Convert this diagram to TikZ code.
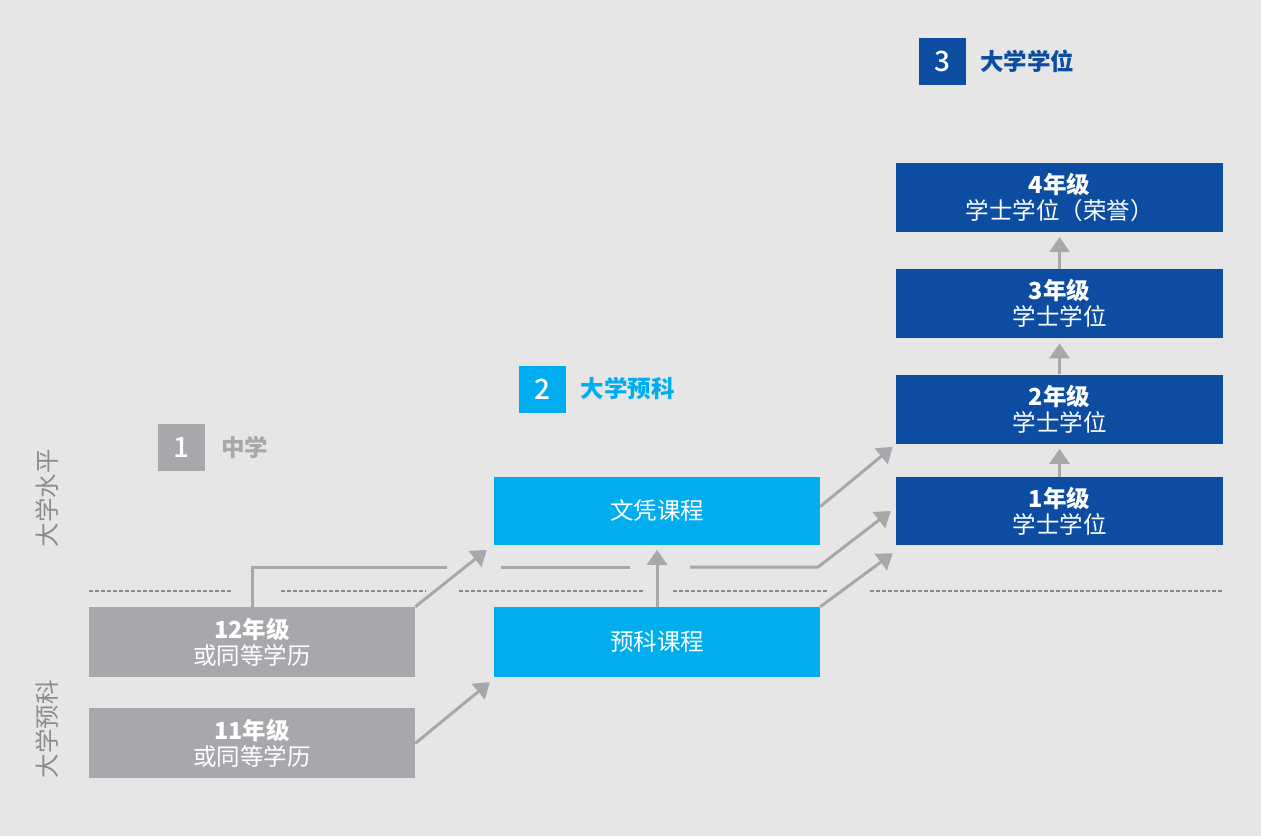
\documentclass[tikz,border=0pt]{standalone}
\usepackage{fontspec}
\setmainfont{Noto Sans CJK SC}
\newfontfamily\numfont{Noto Sans CJK SC Medium}
\usetikzlibrary{positioning, arrows.meta}
\definecolor{bggray}{HTML}{E6E6E6}
\definecolor{boxgray}{HTML}{A7A8AB}
\definecolor{boxcyan}{HTML}{00AEEF}
\definecolor{boxblue}{HTML}{0C4DA2}
\definecolor{dashgray}{HTML}{8A8A8A}
\definecolor{levelgray}{HTML}{8C8C8C}

\begin{document}
\begin{tikzpicture}[x=1pt, y=-1pt,
boxnode/.style={rectangle,
  minimum width=326pt,
  minimum height=69pt,
  inner sep=0pt,
  align=center,
  text=white,
  font=\fontsize{23.5}{26}\selectfont
},
graybox/.style={boxnode, fill=boxgray, minimum height=70pt},
cyanbox/.style={boxnode, fill=boxcyan},
bluebox/.style={boxnode, fill=boxblue, minimum width=327pt},
numbox/.style={rectangle,
  minimum width=47pt,
  minimum height=47pt,
  inner sep=0pt,
  text=white,
  font=\numfont\fontsize{28}{28}\selectfont
},
steplabel/.style={inner sep=0pt, font=\fontsize{23.5}{26}\selectfont\bfseries},
levellabel/.style={rotate=90, text=levelgray, font=\fontsize{24.5}{26}\selectfont},
arrowline/.style={->, line width=3pt, draw=boxgray},
plainline/.style={line width=3pt, draw=boxgray},
divider/.style={draw=dashgray, line width=1.5pt, dash pattern=on 4pt off 2pt},
>={Triangle[length=15pt,width=20pt]}
]

\fill[bggray] (0,0) rectangle (1261,836);

\node[levellabel] (upper) at (47,498)
    {大学水平};
\node[levellabel] (lower) at (47,729)
    {大学预科};

\node[numbox, fill=boxgray] (n1) at (181.5,447.5)
    {1};
\node[steplabel, text=boxgray, right=16pt of n1] (l1)
    {中学};
\node[numbox, fill=boxcyan] (n2) at (542,389)
    {2};
\node[steplabel, text=boxcyan, right=15pt of n2] (l2)
    {大学预科};
\node[numbox, fill=boxblue] (n3) at (942.5,61)
    {3};
\node[steplabel, text=boxblue, right=14pt of n3] (l3)
    {大学学位};

\node[graybox] (g12) at (252,642)
    {\textbf{12年级}\\或同等学历};
\node[graybox, below=31pt of g12] (g11)
    {\textbf{11年级}\\或同等学历};
\node[cyanbox, minimum height=70pt] (yk) at (657,642)
    {预科课程};
\node[cyanbox, minimum height=68pt, above=62pt of yk] (dip)
    {文凭课程};
\node[bluebox, minimum height=68pt] (y1) at (1059.5,511)
    {\textbf{1年级}\\学士学位};
\node[bluebox, above=33pt of y1] (y2)
    {\textbf{2年级}\\学士学位};
\node[bluebox, above=36pt of y2] (y3)
    {\textbf{3年级}\\学士学位};
\node[bluebox, above=37pt of y3] (y4)
    {\textbf{4年级}\\学士学位（荣誉）};

\foreach \a/\b in {89/233, 281/426, 459/645, 673/828, 870/1222}
    \draw[divider] (\a,591) -- (\b,591);

\coordinate (h1) at (447,567);
\coordinate (h2) at (501,567);
\coordinate (h3) at (630,567);
\coordinate (h4) at (690,567);
\coordinate (h5) at (818,567);

\draw[plainline] (g12.north) |- (h1);
\draw[plainline] (h2) -- (h3);
\draw[arrowline] (h4) -- (h5) -- ([xshift=-5pt]y1.west);

\draw[arrowline] (g12.north east) -- ([xshift=-7pt,yshift=-5pt]dip.south west);
\draw[arrowline] (g11.east) -- ([xshift=-4pt,yshift=-5pt]yk.south west);
\draw[arrowline] (yk.north) -- ([yshift=-5pt]dip.south);
\draw[arrowline] ([yshift=4pt]dip.east) -- ([xshift=-3pt,yshift=-3pt]y2.south west);
\draw[arrowline] (yk.north east) -- ([xshift=-3pt,yshift=-8pt]y1.south west);

\foreach \a/\b in {y1/y2, y2/y3, y3/y4}
    \draw[arrowline] (\a.north) -- ([yshift=-5pt]\b.south);
\end{tikzpicture}
\end{document}
